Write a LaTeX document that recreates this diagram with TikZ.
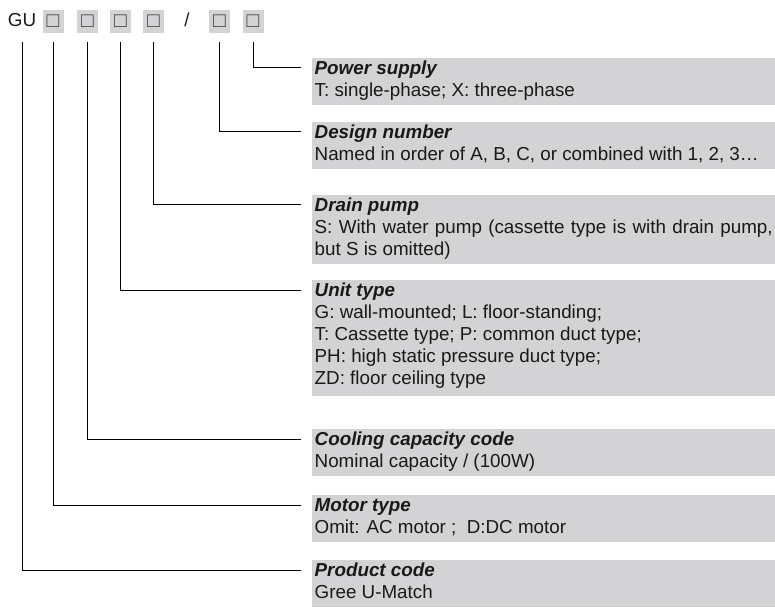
\documentclass[tikz,border=0pt]{standalone}
\usepackage{fontspec}
\setmainfont{Liberation Sans}
\usetikzlibrary{calc}
\definecolor{boxgray}{RGB}{211,211,213}
\definecolor{txt}{RGB}{25,25,25}
\begin{document}
\begin{tikzpicture}[x=1pt,y=-1pt,
  every node/.style={font=\fontsize{18.8}{22}\selectfont, text=txt},
  codesq/.style={fill=boxgray, minimum width=21pt, minimum height=23pt, inner sep=0pt, text=black!75,
    font=\fontsize{21}{21}\selectfont},
  infobox/.style={fill=boxgray, anchor=north west, inner xsep=2.5pt, inner ysep=0pt,
    text width=458pt, align=justify},
  leader/.style={draw=black, line width=1pt}
]
\useasboundingbox (0,0) rectangle (775,609);

% header
\node (gu) at (22,20) {GU};
\node[codesq] (s1) at (53,21.5) {□};
\node[codesq] (s2) at (87.5,21.5) {□};
\node[codesq] (s3) at (120.5,21.5) {□};
\node[codesq] (s4) at (153.5,21.5) {□};
\node (sl) at (187,20) {/};
\node[codesq] (s5) at (219.5,21.5) {□};
\node[codesq] (s6) at (253,21.5) {□};

\newcommand{\ttl}[1]{\rule{0pt}{16pt}\textbf{\itshape #1}\par}
\newcommand{\lastl}{\rule[-9pt]{0pt}{9pt}}

% boxes
\node[infobox] (b1) at (312,58) {\ttl{Power supply}T: single-phase; X: three-phase\lastl};
\node[infobox] (b2) at (312,122) {\ttl{Design number}Named in order of A, B, C, or combined with 1, 2, 3…\lastl};
\node[infobox] (b3) at (312,195) {\ttl{Drain pump}S: With water pump (cassette type is with drain pump, but S is omitted)\lastl};
\node[infobox] (b4) at (312,280) {\ttl{Unit type}G: wall-mounted; L: floor-standing;\newline T: Cassette type; P: common duct type;\newline PH: high static pressure duct type;\newline ZD: floor ceiling type\rule[-12pt]{0pt}{12pt}};
\node[infobox] (b5) at (312,429) {\ttl{Cooling capacity code}Nominal capacity / (100W)\lastl};
\node[infobox] (b6) at (312,495) {\ttl{Motor type}Omit: AC motor ;\ \ D:DC motor\lastl};
\node[infobox] (b7) at (312,560) {\ttl{Product code}Gree U-Match\lastl};

% leader ends
\coordinate (e1) at ($(b1.north west)+(-11,10)$);
\coordinate (e2) at ($(b2.north west)+(-11,10)$);
\coordinate (e3) at ($(b3.north west)+(-11,10)$);
\coordinate (e4) at ($(b4.north west)+(-11,10)$);
\coordinate (e5) at ($(b5.north west)+(-11,10)$);
\coordinate (e6) at ($(b6.north west)+(-11,10)$);
\coordinate (e7) at ($(b7.north west)+(-11,10)$);

\draw[leader] ([yshift=-9pt]s6.south) |- (e1);
\draw[leader] ([yshift=-9pt]s5.south) |- (e2);
\draw[leader] ([yshift=-9pt]s4.south) |- (e3);
\draw[leader] ([yshift=-9pt]s3.south) |- (e4);
\draw[leader] ([yshift=-9pt]s2.south) |- (e5);
\draw[leader] ([yshift=-9pt]s1.south) |- (e6);
\draw[leader] (gu.south |- s1.south) ++(0,9) |- (e7);
\end{tikzpicture}
\end{document}
